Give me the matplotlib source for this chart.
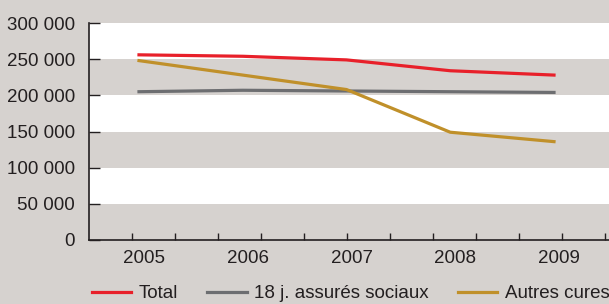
import numpy as np
from matplotlib import pyplot as plt
from matplotlib.ticker import FixedLocator, FuncFormatter
from matplotlib.transforms import ScaledTranslation

years = [2005, 2006, 2007, 2008, 2009]
total = [256000, 254000, 249000, 234000, 228000]
assures = [205000, 207000, 206000, 205000, 204000]
autres = [248000, 228000, 208000, 149000, 136000]
labels = ['Total', '18 j. assurés sociaux', 'Autres cures']
colors = ['#e8202a', '#6d6e71', '#c0902a']

bg = '#d6d2cf'
ink = '#231f20'

plt.rcParams['font.family'] = ['Liberation Sans', 'DejaVu Sans']

fig = plt.figure(figsize=(6.09, 3.04), dpi=100, facecolor=bg)
ax = fig.add_axes([89 / 609, 1 - 240 / 304, 520 / 609, 217 / 304])
ax.set_facecolor('white')

# alternating bands
for lo in range(0, 300000, 100000):
    ax.axhspan(lo, lo + 50000, color=bg, lw=0, zorder=0)

for vals, lab, col in zip([total, assures, autres], labels, colors):
    ax.plot(years, vals, color=col, lw=2.3, label=lab, zorder=3)

x0 = 2005 - 50 / 103.75
ax.set_xlim(x0, x0 + 520 / 103.75)
ax.set_ylim(0, 300000)

ax.set_yticks(np.arange(0, 300001, 50000))
ax.yaxis.set_major_formatter(FuncFormatter(lambda v, p: f'{int(v):,}'.replace(',', ' ')))
ax.set_xticks(years)
ax.xaxis.set_minor_locator(FixedLocator(x0 + np.arange(1, 13) * 43 / 103.75))

ax.tick_params(axis='y', direction='in', length=8, width=1, color=ink, labelsize=13.5,
               labelcolor=ink, pad=10)
ax.tick_params(axis='x', which='major', length=0, labelsize=13.5, labelcolor=ink, pad=7)
ax.tick_params(axis='x', which='minor', direction='in', length=5, width=1, color=ink)

# year labels sit a little right of the data points in the original
shift = ScaledTranslation(5 / 100, 0, fig.dpi_scale_trans)
for t in ax.get_xticklabels():
    t.set_transform(t.get_transform() + shift)

for s in ['top', 'right']:
    ax.spines[s].set_visible(False)
for s in ['left', 'bottom']:
    ax.spines[s].set_color(ink)
    ax.spines[s].set_linewidth(1.2)

leg = fig.legend(loc='lower left', bbox_to_anchor=(75 / 609, -0.05), ncol=3, frameon=False,
                 fontsize=13.5, handlelength=2.1, handletextpad=0.4, columnspacing=1.55,
                 labelcolor=ink)

fig.savefig('out.png', dpi=100, facecolor=bg)
